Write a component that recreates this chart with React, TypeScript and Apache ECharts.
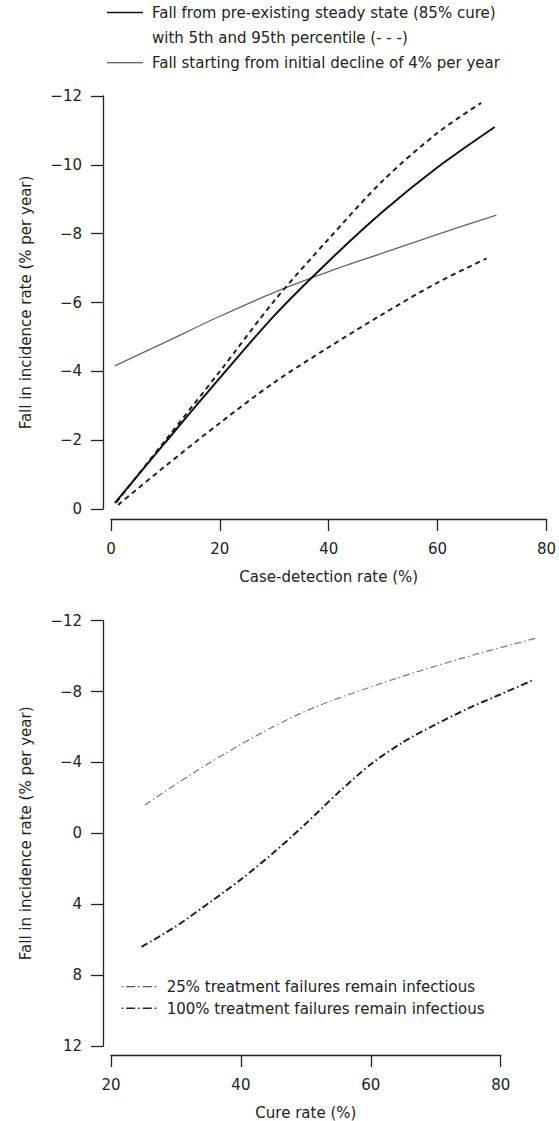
import React, { useEffect, useRef } from "react";
import * as echarts from "echarts";

// ---- Top panel: fall in incidence vs case-detection rate ----
const steadyX = [0.7, 10, 20, 30, 40, 50, 60, 70.5];
const steadyY = [-0.17, -1.94, -3.81, -5.62, -7.2, -8.65, -9.93, -11.1];
const upperX = [1, 10, 20, 30, 40, 50, 60, 68];
const upperY = [-0.2, -2.0, -4.0, -6.05, -7.85, -9.55, -10.93, -11.8];
const lowerX = [1.3, 10, 20, 30, 40, 50, 60, 69];
const lowerY = [-0.12, -1.25, -2.5, -3.68, -4.7, -5.67, -6.58, -7.28];
const declineX = [0.7, 10, 20, 31, 40, 50, 60, 70.8];
const declineY = [-4.16, -4.85, -5.6, -6.36, -6.9, -7.44, -7.98, -8.54];

// ---- Bottom panel: fall in incidence vs cure rate ----
const cure25X = [25.2, 32.2, 39.9, 47.6, 53.7, 64.0, 74.2, 85.3];
const cure25Y = [-1.6, -3.3, -5.0, -6.5, -7.45, -8.75, -9.9, -11.0];
const cure100X = [24.7, 30, 35, 40, 45, 50, 55, 60, 65, 70, 75, 80, 85];
const cure100Y = [6.4, 5.25, 3.95, 2.6, 1.1, -0.55, -2.3, -3.9, -5.15, -6.15, -7.05, -7.85, -8.65];

const legendTop = [
  "Fall from pre-existing steady state (85% cure)",
  "with 5th and 95th percentile (- - -)",
  "Fall starting from initial decline of 4% per year",
];
const legendBottom = [
  "25% treatment failures remain infectious",
  "100% treatment failures remain infectious",
];
const yName = "Fall in incidence rate (% per year)";
const topXName = "Case-detection rate (%)";
const bottomXName = "Cure rate (%)";

const zip = (xs: number[], ys: number[]) => xs.map((x, i) => [x, ys[i]]);
const minusFmt = (v: number) => String(v).replace("-", "\u2212");

const FONT = "DejaVu Sans";
const INK = "#222";

const axisCommon = {
  axisLine: { show: true, onZero: false, lineStyle: { color: INK, width: 1.3 } },
  axisTick: { show: true, length: 12, lineStyle: { color: INK, width: 1.3 } },
  splitLine: { show: false },
  axisLabel: { color: INK, fontSize: 15, fontFamily: FONT, formatter: minusFmt },
  nameTextStyle: { color: INK, fontSize: 15, fontFamily: FONT },
  nameLocation: "middle" as const,
};

const hiddenAxis = {
  show: false,
  axisLine: { show: false, onZero: false },
  axisTick: { show: false },
  axisLabel: { show: false },
  splitLine: { show: false },
};

export default function App() {
  const ref = useRef<HTMLDivElement>(null);
  useEffect(() => {
    if (!ref.current) return;
    const chart = echarts.init(ref.current, null, { renderer: "svg" });
    const dashDot = [7, 3, 1.5, 3];
    const bottomWidth = 389.7;
    const curveMax = 86;
    const curve = { showSymbol: false, smooth: 0.3 };
    chart.setOption({
      animation: false,
      backgroundColor: "#fff",
      grid: [
        { left: 111, top: 96, width: 436.7, height: 413 },
        { left: 111, top: 620.7, width: bottomWidth, height: 425.3 },
        // same scale as grid 1, widened so the curves may run past x = 80
        { left: 111, top: 620.7, width: (bottomWidth * (curveMax - 20)) / 60, height: 425.3 },
      ],
      xAxis: [
        {
          ...axisCommon,
          type: "value",
          gridIndex: 0,
          min: 0,
          max: 80,
          interval: 20,
          offset: 10,
          name: topXName,
          nameGap: 50,
          axisLabel: { ...axisCommon.axisLabel, margin: 22 },
        },
        {
          ...axisCommon,
          type: "value",
          gridIndex: 1,
          min: 20,
          max: 80,
          interval: 20,
          offset: 9,
          name: bottomXName,
          nameGap: 50,
          axisLabel: { ...axisCommon.axisLabel, margin: 22 },
        },
        { ...hiddenAxis, type: "value", gridIndex: 2, min: 20, max: curveMax },
      ],
      yAxis: [
        {
          ...axisCommon,
          type: "value",
          gridIndex: 0,
          min: -12,
          max: 0,
          interval: 2,
          inverse: true,
          offset: 8,
          name: yName,
          nameGap: 70,
          axisLabel: { ...axisCommon.axisLabel, margin: 21 },
        },
        {
          ...axisCommon,
          type: "value",
          gridIndex: 1,
          min: -12,
          max: 12,
          interval: 4,
          inverse: true,
          offset: 8,
          name: yName,
          nameGap: 70,
          axisLabel: { ...axisCommon.axisLabel, margin: 21 },
        },
        { ...hiddenAxis, type: "value", gridIndex: 2, min: -12, max: 12, inverse: true },
      ],
      series: [
        {
          type: "line",
          xAxisIndex: 0,
          yAxisIndex: 0,
          data: zip(declineX, declineY),
          ...curve,
          lineStyle: { color: "#666", width: 1.3 },
        },
        {
          type: "line",
          xAxisIndex: 0,
          yAxisIndex: 0,
          data: zip(upperX, upperY),
          ...curve,
          lineStyle: { color: INK, width: 2, type: [5, 4] },
        },
        {
          type: "line",
          xAxisIndex: 0,
          yAxisIndex: 0,
          data: zip(lowerX, lowerY),
          ...curve,
          lineStyle: { color: INK, width: 2, type: [5, 4] },
        },
        {
          type: "line",
          xAxisIndex: 0,
          yAxisIndex: 0,
          data: zip(steadyX, steadyY),
          ...curve,
          lineStyle: { color: "#111", width: 2 },
        },
        {
          type: "line",
          xAxisIndex: 2,
          yAxisIndex: 2,
          data: zip(cure25X, cure25Y),
          ...curve,
          lineStyle: { color: "#777", width: 1.2, type: dashDot },
        },
        {
          type: "line",
          xAxisIndex: 2,
          yAxisIndex: 2,
          data: zip(cure100X, cure100Y),
          ...curve,
          lineStyle: { color: INK, width: 2, type: dashDot },
        },
      ],
      graphic: [
        { type: "line", shape: { x1: 107, y1: 12.5, x2: 143, y2: 12.5 }, style: { stroke: "#111", lineWidth: 1.3 } },
        { type: "text", x: 152, y: 13, style: { text: legendTop[0], fill: INK, fontSize: 15, fontFamily: FONT, verticalAlign: "middle" } },
        { type: "text", x: 152, y: 38, style: { text: legendTop[1], fill: INK, fontSize: 15, fontFamily: FONT, verticalAlign: "middle" } },
        { type: "line", shape: { x1: 107, y1: 62.7, x2: 143, y2: 62.7 }, style: { stroke: "#333", lineWidth: 1.1 } },
        { type: "text", x: 152, y: 63, style: { text: legendTop[2], fill: INK, fontSize: 15, fontFamily: FONT, verticalAlign: "middle" } },
        { type: "line", shape: { x1: 121.7, y1: 986.7, x2: 158.3, y2: 986.7 }, style: { stroke: "#555", lineWidth: 1.2, lineDash: [1.5, 3, 9, 3] } },
        { type: "text", x: 166.7, y: 987, style: { text: legendBottom[0], fill: INK, fontSize: 15, fontFamily: FONT, verticalAlign: "middle" } },
        { type: "line", shape: { x1: 121.7, y1: 1008.3, x2: 158.3, y2: 1008.3 }, style: { stroke: INK, lineWidth: 1.4, lineDash: [1.5, 3, 9, 3] } },
        { type: "text", x: 166.7, y: 1008.5, style: { text: legendBottom[1], fill: INK, fontSize: 15, fontFamily: FONT, verticalAlign: "middle" } },
      ],
    });
    return () => chart.dispose();
  }, []);
  return (
    <div
      ref={ref}
      style={{ position: "fixed", left: 0, top: 0, width: 559, height: 1121 }}
    />
  );
}
